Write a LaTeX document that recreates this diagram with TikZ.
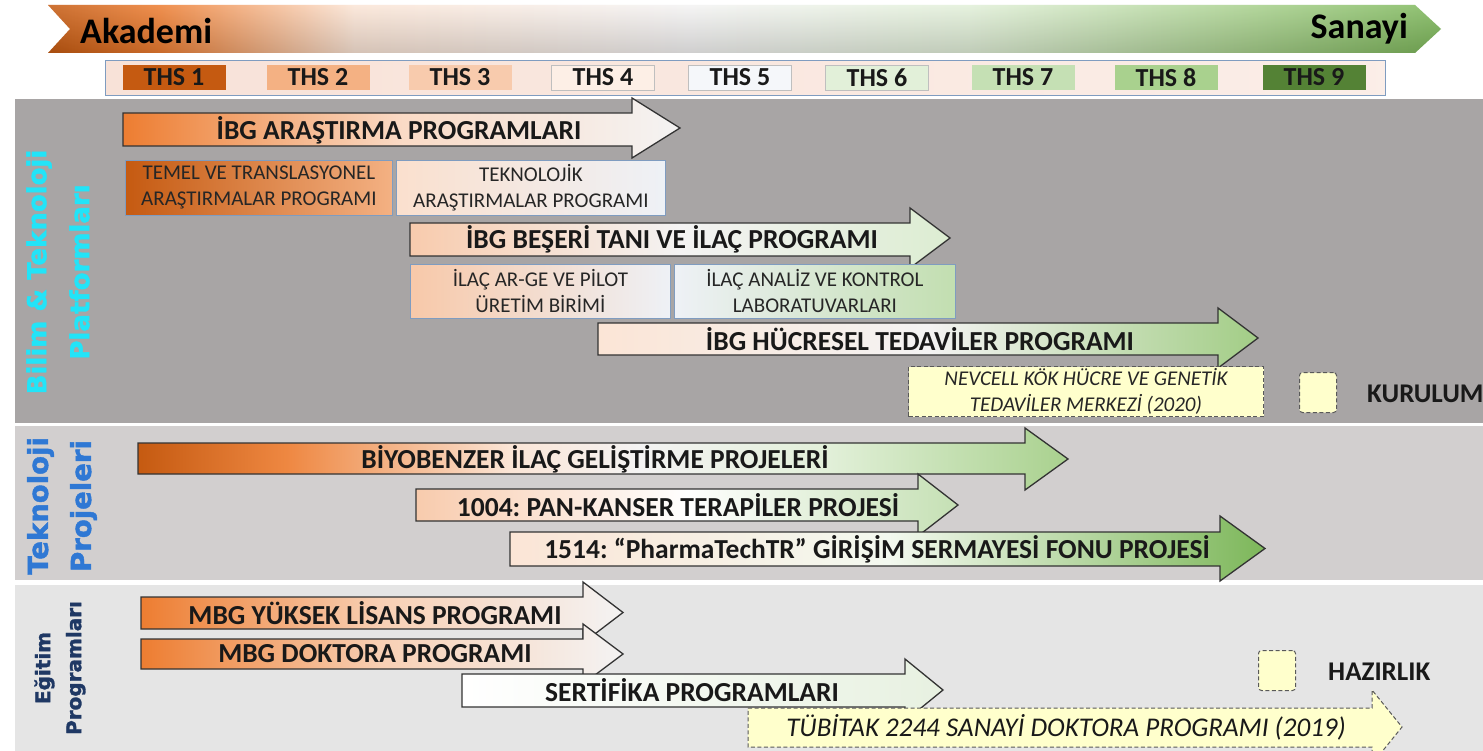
\documentclass[tikz,border=0pt]{standalone}
\usepackage{fontspec}
\setmainfont{Carlito}
\newfontfamily\lblfont[FakeBold=1.5]{DejaVu Sans Bold}
\usetikzlibrary{calc}
\definecolor{sOne}{RGB}{168,165,165}
\definecolor{sTwo}{RGB}{210,207,207}
\definecolor{sThree}{RGB}{229,229,229}
\definecolor{orDark}{HTML}{C55A11}
\definecolor{orMid}{HTML}{ED7D31}
\definecolor{orLight}{HTML}{F4B183}
\definecolor{orPale}{HTML}{F8CBAD}
\definecolor{orVPale}{HTML}{FBE5D6}
\definecolor{offWhite}{HTML}{F4F3F3}
\definecolor{blWhite}{HTML}{EEF1F6}
\definecolor{grPale}{HTML}{E2F0D9}
\definecolor{grLight}{HTML}{C5E0B4}
\definecolor{grMid}{HTML}{A9D18E}
\definecolor{grStrong}{HTML}{7DB75A}
\definecolor{grDark}{HTML}{548235}
\definecolor{lightYel}{HTML}{FFFFCC}
\definecolor{boxBlue}{HTML}{7F9CC0}
\definecolor{cyanLbl}{HTML}{22E4F8}
\definecolor{blueLbl}{HTML}{2F78D4}
\definecolor{navyLbl}{HTML}{1F3864}
\definecolor{barFill}{HTML}{F8E2D8}
\pgfdeclarehorizontalshading{bannershade}{100bp}{color(0bp)=(orDark); color(25bp)=(orDark);
  color(29bp)=(orMid); color(36bp)=(orVPale); color(48bp)=(offWhite); color(58bp)=(grPale);
  color(68bp)=(grMid); color(75bp)=(grStrong); color(100bp)=(grStrong)}
\pgfdeclarehorizontalshading{biyoshade}{100bp}{color(0bp)=(orDark); color(25bp)=(orDark);
  color(33bp)=(orMid!80!orLight); color(45bp)=(orVPale); color(52bp)=(offWhite); color(62bp)=(grPale);
  color(75bp)=(grMid); color(100bp)=(grMid)}
\newcommand{\myarrow}[8]{%
  \path[#1] (#2,#3) -- (#5,#3) -- (#5,#6) -- (#8,{0.5*(#6+#7)}) -- (#5,#7) -- (#5,#4) -- (#2,#4) -- cycle;}
\frenchspacing
\begin{document}
\begin{tikzpicture}[x=1pt,y=-1pt,
  arrowshape/.style={draw=black!80, line width=1.3pt},
  boxshape/.style={draw=boxBlue, line width=0.8pt, anchor=north west, inner sep=0pt, align=center,
    font=\fontsize{21}{26}\selectfont, text=black!85},
  dashshape/.style={draw=black!65, dash pattern=on 4pt off 2.5pt, line width=1pt, fill=lightYel},
  arrowlabel/.style={font=\fontsize{27.5}{30}\selectfont\bfseries, inner sep=0pt, text=black!90},
  thsbox/.style={minimum width=103pt, minimum height=25pt, inner sep=0pt,
    font=\fontsize{26}{26}\selectfont\bfseries, text=black!90},
  sidelabel/.style={rotate=90, align=center, inner sep=0pt},
  legendtext/.style={anchor=west, inner sep=0pt, font=\fontsize{27}{30}\selectfont\bfseries, text=black!90}
]
\useasboundingbox (0,0) rectangle (1483,751);
\clip (0,0) rectangle (1483,751);
\fill[white] (0,0) rectangle (1483,751);
% section backgrounds
\fill[sOne] (15,99) rectangle (1483,423);
\fill[sTwo] (15,426) rectangle (1483,580);
\fill[sThree] (15,585) rectangle (1483,751);
% top banner
\path[shading=bannershade]
  (48,5) -- (1415,5) -- (1441,29) -- (1415,53) -- (48,53) -- (70,29) -- cycle;
\path[top color=white, bottom color=black, opacity=0.15]
  (48,5) -- (1415,5) -- (1441,29) -- (1415,53) -- (48,53) -- (70,29) -- cycle;
\node[anchor=west, inner sep=0pt, font=\fontsize{36}{40}\selectfont\bfseries] (akademi) at (80,31) {Akademi};
\node[anchor=east, inner sep=0pt, font=\fontsize{36}{40}\selectfont\bfseries] (sanayi) at (1408,29) {Sanayi};
% THS bar
\node[draw=boxBlue, line width=1.2pt, left color=barFill, right color=barFill!60!white,
  minimum width=1280pt, minimum height=35pt, anchor=north west, inner sep=0pt] (thsbar) at (105,60) {};
\node[thsbox, fill=orDark] (t1) at (174,77.5) {THS 1};
\node[thsbox, fill=orLight] (t2) at (318,77.5) {THS 2};
\node[thsbox, fill=orPale] (t3) at (460,77.5) {THS 3};
\node[thsbox, fill=orVPale!60!white, draw=black!25] (t4) at (603,77.5) {THS 4};
\node[thsbox, fill=blWhite!60!white, draw=black!25] (t5) at (740,77.5) {THS 5};
\node[thsbox, fill=grPale, draw=black!25] (t6) at (877,77.5) {THS 6};
\node[thsbox, fill=grLight] (t7) at (1023,77.5) {THS 7};
\node[thsbox, fill=grMid] (t8) at (1166,77.5) {THS 8};
\node[thsbox, fill=grDark] (t9) at (1314,77.5) {THS 9};
% side labels
\node[sidelabel, text=cyanLbl, font=\lblfont\fontsize{26}{43}\selectfont] (lab1) at (58,272) {Bilim \& Teknoloji\\Platformları};
\node[sidelabel, text=blueLbl, font=\lblfont\fontsize{27.5}{43}\selectfont] (lab2) at (62,506) {Teknoloji\\Projeleri};
\node[sidelabel, text=navyLbl, font=\lblfont\fontsize{20}{31}\selectfont] (lab3) at (60,668) {Eğitim\\Programları};
% section 1
\myarrow{arrowshape, left color=orMid, right color=offWhite, middle color=orPale!70!white}{123}{113}{146}{632}{98}{158}{680}
\node[arrowlabel] (ibgar) at (399,130) {İBG ARAŞTIRMA PROGRAMLARI};
\node[boxshape, left color=orDark, right color=orLight, minimum width=267pt, minimum height=55pt] (temel) at (125,160)
  {TEMEL VE TRANSLASYONEL\\ARAŞTIRMALAR PROGRAMI};
\node[boxshape, left color=orVPale!80!orPale, right color=blWhite, minimum width=269pt, minimum height=55pt] (tekno) at (396,160)
  {TEKNOLOJİK\\ARAŞTIRMALAR PROGRAMI};
\myarrow{arrowshape, left color=orPale, right color=grPale!80!grLight, middle color=offWhite}{410}{223}{256}{910}{208}{268}{950}
\node[arrowlabel] (beseri) at (672,239) {İBG BEŞERİ TANI VE İLAÇ PROGRAMI};
\node[boxshape, left color=orPale!90!orLight, right color=blWhite, minimum width=260pt, minimum height=54pt] (arge) at (410,264)
  {İLAÇ AR-GE VE PİLOT\\ÜRETİM BİRİMİ};
\node[boxshape, left color=blWhite, right color=grLight!90!grMid, minimum width=281pt, minimum height=54pt] (analiz) at (674,264)
  {İLAÇ ANALİZ VE KONTROL\\LABORATUVARLARI};
\myarrow{arrowshape, left color=orVPale, right color=grMid!85!grStrong, middle color=offWhite}{598}{323}{355}{1218}{308}{368}{1258}
\node[arrowlabel] (hucre) at (920,339) {İBG HÜCRESEL TEDAVİLER PROGRAMI};
\node[boxshape, dashshape, minimum width=355pt, minimum height=50pt, font=\fontsize{21}{26}\selectfont\itshape] (nevcell) at (908,366)
  {NEVCELL KÖK HÜCRE VE GENETİK\\TEDAVİLER MERKEZİ (2020)};
\node[dashshape, rounded corners=3pt, minimum width=37pt, minimum height=40pt, anchor=north west, inner sep=0pt] (kursq) at (1299,372) {};
\node[legendtext] (kurulum) at (1367,394) {KURULUM};
% section 2
\myarrow{arrowshape, shading=biyoshade}{138}{443}{474}{1025}{428}{490}{1068}
\node[arrowlabel] (biyo) at (595,459) {BİYOBENZER İLAÇ GELİŞTİRME PROJELERİ};
\myarrow{arrowshape, left color=orPale, right color=grLight, middle color=white}{416}{489}{521}{918}{474}{536}{958}
\node[arrowlabel] (pan) at (678,505) {1004: PAN-KANSER TERAPİLER PROJESİ};
\myarrow{arrowshape, left color=orVPale, right color=grStrong, middle color=grPale!40!white}{510}{532}{566}{1220}{516}{581}{1265}
\node[arrowlabel] (pharma) at (877,549) {1514: “PharmaTechTR” GİRİŞİM SERMAYESİ FONU PROJESİ};
% section 3
\myarrow{arrowshape, left color=orMid, right color=offWhite, middle color=orLight!60!white}{141}{597}{629}{583}{582}{643}{623}
\node[arrowlabel] (yl) at (375,613) {MBG YÜKSEK LİSANS PROGRAMI};
\myarrow{arrowshape, left color=orMid, right color=offWhite, middle color=orLight!60!white}{141}{639}{669}{583}{624}{684}{623}
\node[arrowlabel] (dok) at (375,654) {MBG DOKTORA PROGRAMI};
\myarrow{arrowshape, left color=white, right color=grPale!70!offWhite}{462}{674}{707}{905}{659}{721}{943}
\node[arrowlabel] (sert) at (692,690) {SERTİFİKA PROGRAMLARI};
\myarrow{dashshape}{748}{708}{747}{1372}{690}{764}{1402}
\node[arrowlabel, font=\fontsize{27}{30}\selectfont\itshape] (tubitak) at (1066,727) {TÜBİTAK 2244 SANAYİ DOKTORA PROGRAMI (2019)};
\node[dashshape, rounded corners=3pt, minimum width=37pt, minimum height=40pt, anchor=north west, inner sep=0pt] (hazsq) at (1258,650) {};
\node[legendtext] (hazirlik) at (1328,672) {HAZIRLIK};
\end{tikzpicture}
\end{document}
